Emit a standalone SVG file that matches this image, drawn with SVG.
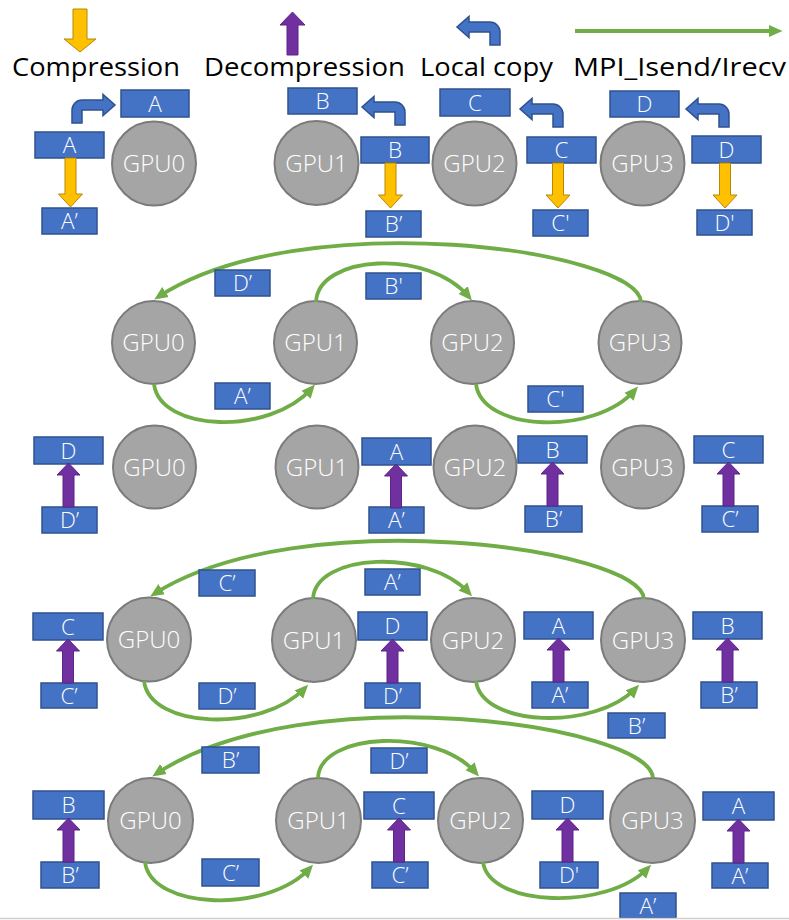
<svg xmlns="http://www.w3.org/2000/svg" xmlns:xlink="http://www.w3.org/1999/xlink" width="789" height="920" viewBox="0 0 789 920">
  <style>
    .box { fill: #4472C4; stroke: #2F528F; stroke-width: 1.5; }
    .bt { fill: #ffffff; font-family: "Open Sans", "Noto Sans", "Liberation Sans", sans-serif; font-weight: 300; font-size: 22.5px; text-anchor: middle; }
    .gpu { fill: #A5A5A5; stroke: #7B7B7B; stroke-width: 2; }
    .gt { fill: #ffffff; font-family: "Open Sans", "Noto Sans", "Liberation Sans", sans-serif; font-weight: 300; font-size: 24px; text-anchor: middle; }
    .leg { fill: #000000; font-family: "Open Sans", "Noto Sans", "Liberation Sans", sans-serif; font-size: 25px; }
    .comp { fill: #FFC000; stroke: #B8860B; stroke-width: 1; }
    .decomp { fill: #7030A0; stroke: #5B2585; stroke-width: 1; }
    .copy { fill: #4472C4; stroke: #2F528F; stroke-width: 1.5; }
    .mpi { fill: none; stroke: #70AD47; stroke-width: 3.8; marker-end: url(#head); }
  </style>
  <defs>
    <marker id="head" markerUnits="userSpaceOnUse" markerWidth="14" markerHeight="14" refX="9" refY="6.5" orient="auto">
      <path d="M0,0.5 L13.5,6.5 L0,12.5 Z" fill="#70AD47"/>
    </marker>
    <!-- decompression arrow: tip at origin, tail 44 below -->
    <path id="up" class="decomp" d="M-5.5,44 V12 H-11.5 L0,0 L11.5,12 H5.5 V44 Z"/>
    <!-- bent local-copy arrow pointing left; origin at bottom-left of the riser -->
    <path id="bent" class="copy" d="M10,0 V-13 A10,10 0 0 0 0,-23 H-21 V-28.5 L-33,-18 L-21,-7.5 V-13 H0 V0 Z"/>
  </defs>

  <!-- legend -->
  <g id="legend">
    <path class="comp" d="M73,9 H87 V39 H96 L80,52 L64,39 H73 Z"/>
    <text class="leg" x="12" y="76" textLength="168" lengthAdjust="spacingAndGlyphs">Compression</text>
    <path class="decomp" d="M287,55 V25 H280 L292.5,12 L305,25 H298 V55 Z"/>
    <text class="leg" x="204" y="76" textLength="201" lengthAdjust="spacingAndGlyphs">Decompression</text>
    <use xlink:href="#bent" transform="translate(490,45)"/>
    <text class="leg" x="420" y="76" textLength="133" lengthAdjust="spacingAndGlyphs">Local copy</text>
    <line class="mpi" x1="575" y1="31" x2="778" y2="31"/>
    <text class="leg" x="573" y="76" textLength="213" lengthAdjust="spacingAndGlyphs">MPI_Isend/Irecv</text>
  </g>

  <!-- step 1: local copy and compression -->
  <g id="s1-gpu0"><circle class="gpu" cx="154" cy="163.5" r="42"/><text class="gt" x="154" y="172">GPU0</text></g>
  <g id="s1-gpu1"><circle class="gpu" cx="316.5" cy="163" r="42"/><text class="gt" x="316.5" y="171.5">GPU1</text></g>
  <g id="s1-gpu2"><circle class="gpu" cx="474.5" cy="163.5" r="42"/><text class="gt" x="474.5" y="172">GPU2</text></g>
  <g id="s1-gpu3"><circle class="gpu" cx="642.5" cy="163.5" r="42"/><text class="gt" x="642.5" y="172">GPU3</text></g>

  <g id="s1-a-copy"><rect class="box" x="121" y="90" width="68" height="27"/><text class="bt" x="155" y="111.5">A</text></g>
  <g id="s1-a"><rect class="box" x="35" y="132" width="69" height="26"/><text class="bt" x="69.5" y="153">A</text></g>
  <g id="s1-a-c"><rect class="box" x="42" y="208" width="55" height="26"/><text class="bt" x="69.5" y="229">A’</text></g>
  <g id="s1-b-copy"><rect class="box" x="288" y="88" width="69" height="26"/><text class="bt" x="322.5" y="109">B</text></g>
  <g id="s1-b"><rect class="box" x="361" y="137" width="68" height="26"/><text class="bt" x="395" y="158">B</text></g>
  <g id="s1-b-c"><rect class="box" x="366" y="211" width="55" height="26"/><text class="bt" x="393.5" y="232">B’</text></g>
  <g id="s1-c-copy"><rect class="box" x="440" y="89" width="70" height="27"/><text class="bt" x="475" y="110.5">C</text></g>
  <g id="s1-c"><rect class="box" x="527" y="137" width="69" height="26"/><text class="bt" x="561.5" y="158">C</text></g>
  <g id="s1-c-c"><rect class="box" x="533" y="210" width="55" height="26"/><text class="bt" x="560.5" y="231">C'</text></g>
  <g id="s1-d-copy"><rect class="box" x="610" y="91" width="69" height="26"/><text class="bt" x="644.5" y="112">D</text></g>
  <g id="s1-d"><rect class="box" x="692" y="136" width="69" height="27"/><text class="bt" x="726.5" y="157.5">D</text></g>
  <g id="s1-d-c"><rect class="box" x="697" y="210" width="55" height="25"/><text class="bt" x="724.5" y="230.5">D'</text></g>

  <g id="s1-arrows">
    <use xlink:href="#bent" transform="translate(82,123) scale(-1,1)"/>
    <use xlink:href="#bent" transform="translate(395,125)"/>
    <use xlink:href="#bent" transform="translate(553,127)"/>
    <use xlink:href="#bent" transform="translate(719,127)"/>
    <path class="comp" d="M65,158 H76 V194 H82.5 L70.5,207 L58.5,194 H65 Z"/>
    <path class="comp" d="M385,163 H396 V195 H402.5 L390.5,208 L378.5,195 H385 Z"/>
    <path class="comp" d="M552.5,163 H563.5 V195 H570 L558,208 L546,195 H552.5 Z"/>
    <path class="comp" d="M719.5,163 H730.5 V195 H737 L725,208 L713,195 H719.5 Z"/>
  </g>

  <!-- step 2: first exchange -->
  <g id="s2-gpu0"><circle class="gpu" cx="153.5" cy="342.5" r="41.5"/><text class="gt" x="153.5" y="351">GPU0</text></g>
  <g id="s2-gpu1"><circle class="gpu" cx="315.5" cy="342.5" r="41.5"/><text class="gt" x="315.5" y="351">GPU1</text></g>
  <g id="s2-gpu2"><circle class="gpu" cx="472.5" cy="342.5" r="41.5"/><text class="gt" x="472.5" y="351">GPU2</text></g>
  <g id="s2-gpu3"><circle class="gpu" cx="640" cy="342.5" r="41.5"/><text class="gt" x="640" y="351">GPU3</text></g>

  <g id="s2-links">
    <path class="mpi" d="M641,302 C638,250 302,203 158,297"/>
    <path class="mpi" d="M316,302 C318,255 428,248 469,297"/>
    <path class="mpi" d="M154,384 C160,432 270,436 312,388"/>
    <path class="mpi" d="M476,384 C482,432 595,436 635,390"/>
  </g>
  <g id="s2-msg-d"><rect class="box" x="215" y="270" width="55" height="26"/><text class="bt" x="242.5" y="291">D’</text></g>
  <g id="s2-msg-b"><rect class="box" x="366" y="273" width="55" height="26"/><text class="bt" x="393.5" y="294">B'</text></g>
  <g id="s2-msg-a"><rect class="box" x="215" y="383" width="55" height="26"/><text class="bt" x="242.5" y="404">A’</text></g>
  <g id="s2-msg-c"><rect class="box" x="528" y="386" width="55" height="26"/><text class="bt" x="555.5" y="407">C'</text></g>

  <!-- step 3: decompression -->
  <g id="s3-gpu0"><circle class="gpu" cx="154.5" cy="467" r="41.5"/><text class="gt" x="154.5" y="475.5">GPU0</text></g>
  <g id="s3-gpu1"><circle class="gpu" cx="317" cy="467" r="41.5"/><text class="gt" x="317" y="475.5">GPU1</text></g>
  <g id="s3-gpu2"><circle class="gpu" cx="475" cy="467" r="41.5"/><text class="gt" x="475" y="475.5">GPU2</text></g>
  <g id="s3-gpu3"><circle class="gpu" cx="642.5" cy="467" r="41.5"/><text class="gt" x="642.5" y="475.5">GPU3</text></g>

  <g id="s3-d"><rect class="box" x="34" y="437" width="69" height="27"/><text class="bt" x="68.5" y="458.5">D</text></g>
  <g id="s3-d-c"><rect class="box" x="42" y="507" width="55" height="26"/><text class="bt" x="69.5" y="528">D’</text></g>
  <g id="s3-a"><rect class="box" x="362" y="438" width="69" height="27"/><text class="bt" x="396.5" y="459.5">A</text></g>
  <g id="s3-a-c"><rect class="box" x="369" y="507" width="55" height="26"/><text class="bt" x="396.5" y="528">A’</text></g>
  <g id="s3-b"><rect class="box" x="518" y="436" width="69" height="27"/><text class="bt" x="552.5" y="457.5">B</text></g>
  <g id="s3-b-c"><rect class="box" x="525" y="506" width="57" height="26"/><text class="bt" x="553.5" y="527">B’</text></g>
  <g id="s3-c"><rect class="box" x="694" y="436" width="69" height="27"/><text class="bt" x="728.5" y="457.5">C</text></g>
  <g id="s3-c-c"><rect class="box" x="702" y="506" width="56" height="26"/><text class="bt" x="730" y="527">C’</text></g>
  <g id="s3-arrows">
    <use xlink:href="#up" x="68.5" y="463"/>
    <use xlink:href="#up" x="396" y="464"/>
    <use xlink:href="#up" x="552.5" y="462"/>
    <use xlink:href="#up" x="728.5" y="462"/>
  </g>

  <!-- step 4: second exchange and decompression -->
  <g id="s4-gpu0"><circle class="gpu" cx="149" cy="639.5" r="42"/><text class="gt" x="149" y="648">GPU0</text></g>
  <g id="s4-gpu1"><circle class="gpu" cx="314" cy="640" r="42"/><text class="gt" x="314" y="648.5">GPU1</text></g>
  <g id="s4-gpu2"><circle class="gpu" cx="473" cy="640" r="42"/><text class="gt" x="473" y="648.5">GPU2</text></g>
  <g id="s4-gpu3"><circle class="gpu" cx="643" cy="640" r="42"/><text class="gt" x="643" y="648.5">GPU3</text></g>

  <g id="s4-links">
    <path class="mpi" d="M644,599 C641,548 300,501 154,594"/>
    <path class="mpi" d="M313,599 C315,553 428,548 469,593"/>
    <path class="mpi" d="M144,681 C150,729 262,733 305,688"/>
    <path class="mpi" d="M476,681 C482,727 595,731 636,688"/>
  </g>
  <g id="s4-msg-c"><rect class="box" x="199" y="570" width="56" height="26"/><text class="bt" x="227" y="591">C’</text></g>
  <g id="s4-msg-a"><rect class="box" x="365" y="569" width="55" height="26"/><text class="bt" x="392.5" y="590">A’</text></g>
  <g id="s4-msg-d"><rect class="box" x="199" y="683" width="56" height="26"/><text class="bt" x="227" y="704">D’</text></g>
  <g id="s4-msg-b"><rect class="box" x="608" y="713" width="57" height="25"/><text class="bt" x="636.5" y="733.5">B’</text></g>

  <g id="s4-c"><rect class="box" x="33" y="613" width="70" height="27"/><text class="bt" x="68" y="634.5">C</text></g>
  <g id="s4-c-c"><rect class="box" x="41" y="683" width="56" height="25"/><text class="bt" x="69" y="703.5">C’</text></g>
  <g id="s4-d"><rect class="box" x="358" y="612" width="69" height="28"/><text class="bt" x="392.5" y="634">D</text></g>
  <g id="s4-d-c"><rect class="box" x="365" y="683" width="55" height="25"/><text class="bt" x="392.5" y="703.5">D’</text></g>
  <g id="s4-a"><rect class="box" x="524" y="612" width="69" height="27"/><text class="bt" x="558.5" y="633.5">A</text></g>
  <g id="s4-a-c"><rect class="box" x="532" y="682" width="56" height="26"/><text class="bt" x="560" y="703">A’</text></g>
  <g id="s4-b"><rect class="box" x="693" y="612" width="69" height="27"/><text class="bt" x="727.5" y="633.5">B</text></g>
  <g id="s4-b-c"><rect class="box" x="701" y="682" width="56" height="26"/><text class="bt" x="729" y="703">B’</text></g>
  <g id="s4-arrows">
    <use xlink:href="#up" x="68" y="639"/>
    <use xlink:href="#up" x="392.5" y="639"/>
    <use xlink:href="#up" x="558.5" y="638"/>
    <use xlink:href="#up" x="727.5" y="638"/>
  </g>

  <!-- step 5: third exchange and decompression -->
  <g id="s5-gpu0"><circle class="gpu" cx="150.5" cy="820.5" r="42.5"/><text class="gt" x="150.5" y="829">GPU0</text></g>
  <g id="s5-gpu1"><circle class="gpu" cx="318.5" cy="820.5" r="42.5"/><text class="gt" x="318.5" y="829">GPU1</text></g>
  <g id="s5-gpu2"><circle class="gpu" cx="480.5" cy="820.5" r="42.5"/><text class="gt" x="480.5" y="829">GPU2</text></g>
  <g id="s5-gpu3"><circle class="gpu" cx="652.5" cy="820.5" r="42.5"/><text class="gt" x="652.5" y="829">GPU3</text></g>

  <g id="s5-links">
    <path class="mpi" d="M653,778 C650,725 305,675 156,774"/>
    <path class="mpi" d="M318,778 C320,732 436,727 476,773"/>
    <path class="mpi" d="M145,862 C151,910 268,914 310,868"/>
    <path class="mpi" d="M483,862 C489,907 607,911 648,868"/>
  </g>
  <g id="s5-msg-b"><rect class="box" x="202" y="747" width="57" height="26"/><text class="bt" x="230.5" y="768">B’</text></g>
  <g id="s5-msg-d"><rect class="box" x="371" y="748" width="56" height="25"/><text class="bt" x="399" y="768.5">D’</text></g>
  <g id="s5-msg-c"><rect class="box" x="202" y="859" width="57" height="27"/><text class="bt" x="230.5" y="880.5">C’</text></g>
  <g id="s5-msg-a"><rect class="box" x="620" y="893" width="56" height="25"/><text class="bt" x="648" y="913.5">A’</text></g>

  <g id="s5-b"><rect class="box" x="33" y="791" width="71" height="28"/><text class="bt" x="68.5" y="813">B</text></g>
  <g id="s5-b-c"><rect class="box" x="41" y="862" width="58" height="26"/><text class="bt" x="70" y="883">B’</text></g>
  <g id="s5-c"><rect class="box" x="364" y="792" width="70" height="27"/><text class="bt" x="399" y="813.5">C</text></g>
  <g id="s5-c-c"><rect class="box" x="372" y="862" width="56" height="26"/><text class="bt" x="400" y="883">C’</text></g>
  <g id="s5-d"><rect class="box" x="532" y="791" width="71" height="28"/><text class="bt" x="567.5" y="813">D</text></g>
  <g id="s5-d-c"><rect class="box" x="540" y="862" width="58" height="26"/><text class="bt" x="569" y="883">D'</text></g>
  <g id="s5-a"><rect class="box" x="703" y="792" width="71" height="28"/><text class="bt" x="738.5" y="814">A</text></g>
  <g id="s5-a-c"><rect class="box" x="712" y="863" width="56" height="25"/><text class="bt" x="740" y="883.5">A’</text></g>
  <g id="s5-arrows">
    <use xlink:href="#up" x="68.5" y="818"/>
    <use xlink:href="#up" x="399" y="818"/>
    <use xlink:href="#up" x="567.5" y="818"/>
    <use xlink:href="#up" x="738.5" y="819"/>
  </g>

  <line x1="0" y1="918.5" x2="789" y2="918.5" stroke="#D0D0D0" stroke-width="1.5"/>
</svg>
